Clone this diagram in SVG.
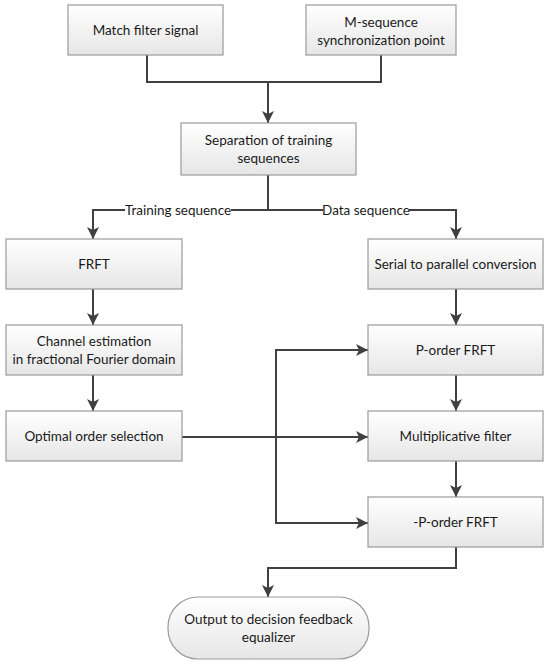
<svg xmlns="http://www.w3.org/2000/svg" width="550" height="665" viewBox="0 0 550 665">
<defs>
<linearGradient id="g" x1="0" y1="0" x2="0" y2="1">
<stop offset="0" stop-color="#ffffff"/>
<stop offset="1" stop-color="#e6e6e6"/>
</linearGradient>
<marker id="arr" markerWidth="12" markerHeight="12" viewBox="0 0 12 12" refX="12" refY="6" orient="auto" markerUnits="userSpaceOnUse">
<path d="M0,0 L12,6 L0,12 L3,6 z" fill="#404040"/>
</marker>
</defs>
<style>
.box{fill:url(#g);stroke:#9a9a9a;stroke-width:1.2}
.t{font-family:"Lato","Liberation Sans",sans-serif;font-size:13.5px;fill:#1a1a1a;text-anchor:middle}
.c{fill:none;stroke:#404040;stroke-width:2}
.lbl{font-family:"Lato","Liberation Sans",sans-serif;font-size:13.5px;fill:#1a1a1a;text-anchor:middle}
</style>
<rect width="550" height="665" fill="#ffffff"/>
<g id="connectors">
<path class="c" d="M147,55 V82 H381 V55"/>
<path class="c" d="M268,82 V123" marker-end="url(#arr)"/>
<path class="c" d="M268,175 V210"/>
<path class="c" d="M268,210 H93 V239" marker-end="url(#arr)"/>
<path class="c" d="M268,210 H456 V239" marker-end="url(#arr)"/>
<path class="c" d="M93,289 V325" marker-end="url(#arr)"/>
<path class="c" d="M93,375 V411" marker-end="url(#arr)"/>
<path class="c" d="M456,289 V325" marker-end="url(#arr)"/>
<path class="c" d="M456,375 V411" marker-end="url(#arr)"/>
<path class="c" d="M456,461 V497" marker-end="url(#arr)"/>
<path class="c" d="M182,437 H368" marker-end="url(#arr)"/>
<path class="c" d="M368,350 H276 V523 H368" marker-end="url(#arr)"/>
<path class="c" d="M276,350 H368" marker-end="url(#arr)"/>
<path class="c" d="M456,547 V568 H268 V597" marker-end="url(#arr)"/>
<rect x="125" y="201" width="106" height="17" fill="#ffffff"/>
<text class="lbl" x="178" y="214.5">Training sequence</text>
<rect x="323" y="201" width="86" height="17" fill="#ffffff"/>
<text class="lbl" x="366" y="214.5">Data sequence</text>
</g>
<g id="match"><rect class="box" x="68" y="5" width="155" height="50"/><text class="t" x="145.5" y="35">Match filter signal</text></g>
<g id="mseq"><rect class="box" x="306" y="5" width="150" height="50"/><text class="t" x="381" y="27">M-sequence</text><text class="t" x="381" y="44.5">synchronization point</text></g>
<g id="sep"><rect class="box" x="181" y="123" width="175" height="52"/><text class="t" x="268.5" y="145">Separation of training</text><text class="t" x="268.5" y="162.5">sequences</text></g>
<g id="frft"><rect class="box" x="6" y="239" width="176" height="50"/><text class="t" x="94" y="269">FRFT</text></g>
<g id="serial"><rect class="box" x="368" y="239" width="175" height="50"/><text class="t" x="455.5" y="269">Serial to parallel conversion</text></g>
<g id="channel"><rect class="box" x="6" y="325" width="176" height="50"/><text class="t" x="94" y="346">Channel estimation</text><text class="t" x="94" y="363.5">in fractional Fourier domain</text></g>
<g id="porder"><rect class="box" x="368" y="325" width="175" height="50"/><text class="t" x="455.5" y="355">P-order FRFT</text></g>
<g id="optimal"><rect class="box" x="6" y="411" width="176" height="50"/><text class="t" x="94" y="441">Optimal order selection</text></g>
<g id="mult"><rect class="box" x="368" y="411" width="175" height="50"/><text class="t" x="455.5" y="441">Multiplicative filter</text></g>
<g id="nporder"><rect class="box" x="368" y="497" width="175" height="50"/><text class="t" x="455.5" y="527">-P-order FRFT</text></g>
<g id="output"><rect class="box" x="168" y="597" width="201" height="62" rx="30" ry="30"/><text class="t" x="268.5" y="624">Output to decision feedback</text><text class="t" x="268.5" y="641.5">equalizer</text></g>
</svg>
